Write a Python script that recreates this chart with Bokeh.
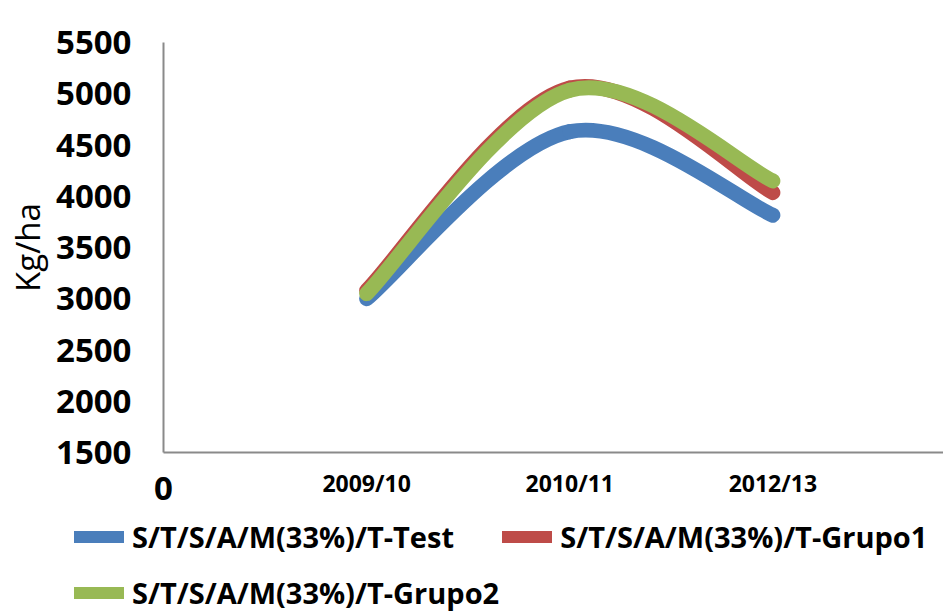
import numpy as np
from bokeh.plotting import figure
from bokeh.layouts import column, row
from bokeh.models import (Range1d, FixedTicker, Legend, LegendItem,
                          LinearAxis, ColumnDataSource)
from bokeh.embed import file_html
from bokeh.resources import INLINE

# ---- data ----
categories = ["2009/10", "2010/11", "2012/13"]
x_pos = [1, 2, 3]
origin_tick = [0]
origin_label = ["0"]
test = [3000, 4630, 3815]
grupo1 = [3080, 5055, 4035]
grupo2 = [3050, 5035, 4150]
series_names = ["S/T/S/A/M(33%)/T-Test", "S/T/S/A/M(33%)/T-Grupo1",
                "S/T/S/A/M(33%)/T-Grupo2"]
series_values = [test, grupo1, grupo2]
colors = ["#4A7EBB", "#BE4B48", "#98B954"]
y_ticks = [1500, 2000, 2500, 3000, 3500, 4000, 4500, 5000, 5500]


def smooth_segments(xs, ys, t=1.0 / 6.0):
    """Catmull-Rom style cubic Bezier control points through the data."""
    xs = np.asarray(xs, float)
    ys = np.asarray(ys, float)
    n = len(xs)
    d = dict(x0=[], y0=[], x1=[], y1=[], cx0=[], cy0=[], cx1=[], cy1=[])
    for i in range(n - 1):
        ip = max(i - 1, 0)
        inn = min(i + 2, n - 1)
        d["x0"].append(xs[i]); d["y0"].append(ys[i])
        d["x1"].append(xs[i + 1]); d["y1"].append(ys[i + 1])
        d["cx0"].append(xs[i] + (xs[i + 1] - xs[ip]) * t)
        d["cy0"].append(ys[i] + (ys[i + 1] - ys[ip]) * t)
        d["cx1"].append(xs[i + 1] - (xs[inn] - xs[i]) * t)
        d["cy1"].append(ys[i + 1] - (ys[inn] - ys[i]) * t)
    return ColumnDataSource(d)


FONT = "Open Sans"
AXIS_GRAY = "#8a8a8a"

p = figure(width=943, height=510, x_range=Range1d(0, 3.84),
           y_range=Range1d(1500, 5500), output_backend="svg",
           toolbar_location=None, min_border_left=163, min_border_right=0,
           min_border_top=42, min_border_bottom=58)
p.grid.visible = False
p.outline_line_color = None
p.background_fill_color = "white"
p.border_fill_color = "white"


def style_axis(ax, size):
    ax.axis_line_color = AXIS_GRAY
    ax.axis_line_width = 2
    ax.major_tick_line_color = None
    ax.minor_tick_line_color = None
    ax.major_tick_out = 0
    ax.major_tick_in = 0
    ax.minor_tick_out = 0
    ax.major_label_text_font = FONT
    ax.major_label_text_font_style = "bold"
    ax.major_label_text_color = "black"
    ax.major_label_text_font_size = size


# y axis
yax = p.yaxis[0]
style_axis(yax, "33px")
yax.ticker = FixedTicker(ticks=y_ticks)
yax.major_label_standoff = 32
yax.axis_label = "Kg/ha"
yax.axis_label_text_font = FONT
yax.axis_label_text_font_style = "normal"
yax.axis_label_text_font_size = "33px"
yax.axis_label_text_color = "black"
yax.axis_label_standoff = 3

# x axis: origin "0" (larger), then the category labels
xax = p.xaxis[0]
style_axis(xax, "33px")
xax.ticker = FixedTicker(ticks=origin_tick)
xax.major_label_overrides = {t: s for t, s in zip(origin_tick, origin_label)}
xax.major_label_standoff = 24

cat_axis = LinearAxis(ticker=FixedTicker(ticks=x_pos),
                      major_label_overrides={x: c for x, c in
                                             zip(x_pos, categories)})
style_axis(cat_axis, "23px")
cat_axis.axis_line_color = None
cat_axis.major_label_standoff = -36
p.add_layout(cat_axis, "below")

# legend panel (own figure with no axes)
lp = figure(width=943, height=105, x_range=Range1d(0, 1),
            y_range=Range1d(0, 1), output_backend="svg",
            toolbar_location=None, min_border=0, min_border_left=0,
            min_border_right=0, min_border_top=0, min_border_bottom=0,
            x_axis_location=None, y_axis_location=None)
lp.grid.visible = False
lp.outline_line_color = None

legend_items = []
for name, vals, col in zip(series_names, series_values, colors):
    src = smooth_segments(x_pos, vals)
    p.bezier(x0="x0", y0="y0", x1="x1", y1="y1", cx0="cx0", cy0="cy0",
             cx1="cx1", cy1="cy1", source=src, line_color=col,
             line_width=15, line_cap="round")
    # single-point line: draws nothing in the panel, only its legend glyph
    dummy = lp.line(x=[0], y=[0], line_color=col, line_width=12,
                    line_cap="round")
    legend_items.append(LegendItem(label=name, renderers=[dummy]))

legend = Legend(items=legend_items, location=(74, -4),
                orientation="horizontal", ncols=2,
                label_text_font=FONT, label_text_font_style="bold",
                label_text_font_size="29px", label_text_color="black",
                glyph_width=50, glyph_height=53, label_height=53,
                label_standoff=8, spacing=3, padding=0, margin=0,
                border_line_color=None, background_fill_alpha=0)
lp.add_layout(legend, "center")

layout = column(p, row(lp, spacing=0), spacing=0)
open("out.html", "w").write(file_html(layout, INLINE))
